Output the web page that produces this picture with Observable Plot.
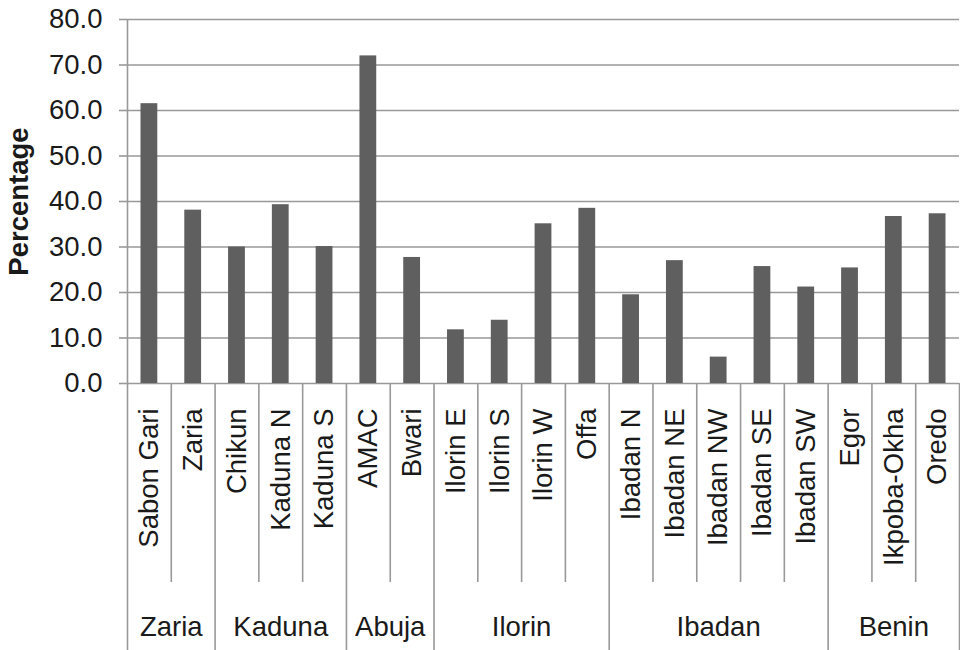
<!DOCTYPE html>
<html>
<head>
<meta charset="utf-8">
<script src="https://cdn.jsdelivr.net/npm/d3@7"></script>
<script src="https://cdn.jsdelivr.net/npm/@observablehq/plot@0.6"></script>
<style>
  html, body { margin: 0; padding: 0; background: #fff; }
  #chart svg { display: block; }
</style>
</head>
<body>
<div id="chart"></div>
<script>
// ---- data ----
const categories = ["Sabon Gari", "Zaria", "Chikun", "Kaduna N", "Kaduna S", "AMAC", "Bwari",
  "Ilorin E", "Ilorin S", "Ilorin W", "Offa", "Ibadan N", "Ibadan NE", "Ibadan NW", "Ibadan SE",
  "Ibadan SW", "Egor", "Ikpoba-Okha", "Oredo"];
const values = [61.5, 38.1, 30.0, 39.3, 30.1, 72.0, 27.7, 11.8, 13.9, 35.1, 38.5,
  19.5, 27.0, 5.8, 25.7, 21.2, 25.4, 36.7, 37.3];
const groups = ["Zaria", "Kaduna", "Abuja", "Ilorin", "Ibadan", "Benin"];
const groupSizes = [2, 3, 2, 4, 5, 3];
const yTicks = [0, 10, 20, 30, 40, 50, 60, 70, 80];
const yTitle = "Percentage";

// ---- derived tables ----
const bars = categories.map((name, i) => ({name, value: values[i], i}));
let start = 0;
const groupRows = groups.map((g, k) => {
  const row = {name: g, start, end: start + groupSizes[k]};
  start += groupSizes[k];
  return row;
});
const groupEdges = new Set(groupRows.flatMap(g => [g.start, g.end]));
const boundaries = d3.range(0, categories.length + 1).map(b => ({b, long: groupEdges.has(b)}));

// ---- layout ----
const W = 960, H = 650;
const mTop = 19, mBottom = 267, mLeft = 127, mRight = 1;
const plotH = H - mTop - mBottom;
const yMax = 80;
const unitsPerPx = yMax / plotH;
const yShort = -(582 - (H - mBottom)) * unitsPerPx;
const yLong = -(H - (H - mBottom)) * unitsPerPx;

const font = "Liberation Sans, Arial, Helvetica, sans-serif";
const fs = 27.5;
const gridColor = "#999999";
const textColor = "#1a1a1a";

const chart = Plot.plot({
  width: W,
  height: H,
  marginTop: mTop,
  marginBottom: mBottom,
  marginLeft: mLeft,
  marginRight: mRight,
  style: {fontFamily: font, background: "#fff"},
  x: {type: "linear", domain: [0, categories.length], axis: null},
  y: {domain: [0, yMax], axis: null},
  marks: [
    // horizontal gridlines
    Plot.ruleY(yTicks, {stroke: gridColor, strokeWidth: 1.6}),
    // y axis ticks and labels
    Plot.axisY(yTicks, {
      tickSize: 8, tickPadding: 17, tickFormat: d3.format(".1f"),
      stroke: gridColor, strokeWidth: 1.6, fill: textColor,
      fontSize: fs, fontFamily: font, label: null
    }),
    // y axis line (top to plot bottom) and the category separators below
    Plot.ruleX([0], {y1: yMax, y2: 0, stroke: gridColor, strokeWidth: 1.6}),
    Plot.ruleX(boundaries, {
      x: "b", y1: 0, y2: d => d.long ? yLong : yShort,
      stroke: gridColor, strokeWidth: 1.6
    }),
    // bars
    Plot.rectY(bars, {
      x1: d => d.i, x2: d => d.i + 1, y1: 0, y2: "value",
      insetLeft: 13.5, insetRight: 13.5, fill: "#5f5f5f"
    }),
    // category labels
    Plot.text(bars, {
      x: d => d.i + 0.5, y: 0, text: "name", rotate: -90,
      textAnchor: "end", lineAnchor: "middle", dy: 25,
      fontSize: fs, fontFamily: font, fill: textColor
    }),
    // group labels
    Plot.text(groupRows, {
      x: d => (d.start + d.end) / 2, y: yLong, text: "name",
      textAnchor: "middle", lineAnchor: "middle", dy: -23.5,
      fontSize: fs, fontFamily: font, fill: textColor
    }),
    // y axis title
    Plot.text([yTitle], {
      frameAnchor: "left", text: d => d, rotate: -90, dx: -108,
      textAnchor: "middle", lineAnchor: "middle",
      fontSize: fs, fontWeight: "bold", fontFamily: font, fill: textColor
    })
  ]
});
document.getElementById("chart").appendChild(chart);
</script>
</body>
</html>
